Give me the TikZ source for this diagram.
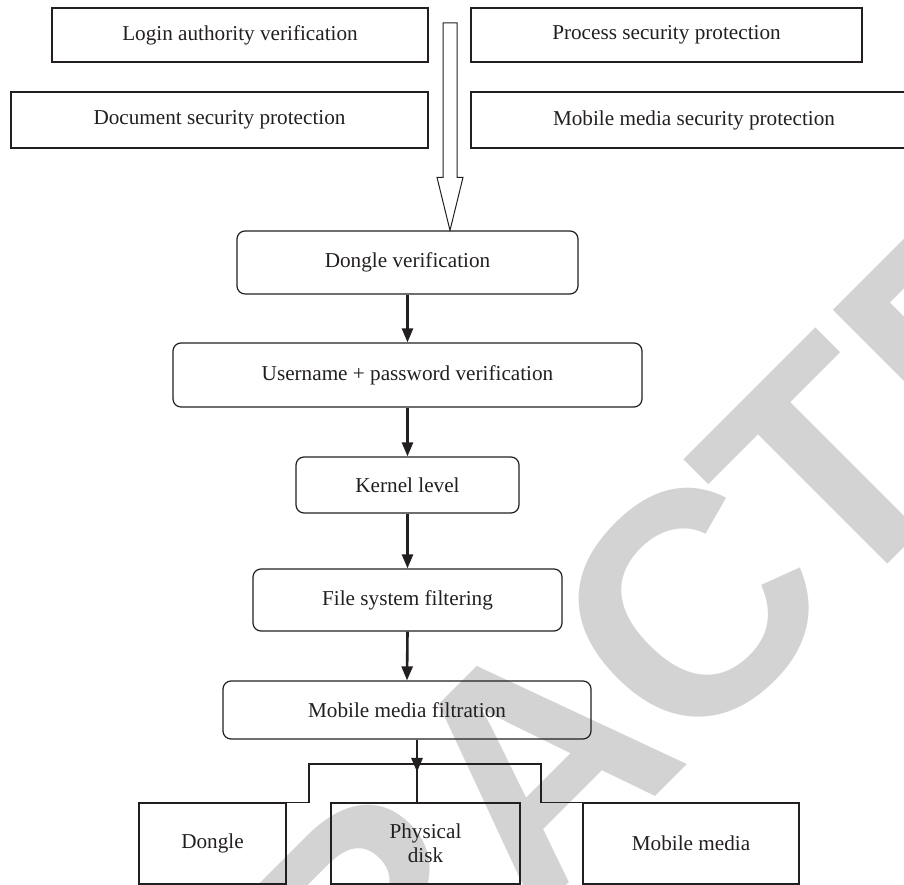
\documentclass[tikz,border=0pt]{standalone}
\usepackage{fontspec}
\setmainfont{Liberation Serif}
\newfontfamily\wmfont{Liberation Sans}
\usetikzlibrary{arrows.meta,calc}
\definecolor{ink}{HTML}{231F20}
\definecolor{wmgray}{HTML}{D3D3D3}

\begin{document}
\begin{tikzpicture}[x=1pt,y=1pt,
  lbl/.style={font=\fontsize{21.2}{25}\selectfont, text=ink},
  plainbox/.style={lbl, draw=ink, line width=1.2pt, rectangle, inner sep=0pt, align=center},
  roundbox/.style={plainbox, rounded corners=8pt},
  flow/.style={draw=ink, line width=2.6pt, -{Triangle[width=11pt,length=14pt]}},
  tree/.style={draw=ink, line width=1.2pt},
  hollow/.style={draw=ink, line width=1pt, line join=miter},
  stamp/.style={rotate=45, inner sep=0pt, text=wmgray,
    font=\wmfont\bfseries\fontsize{317}{317}\selectfont},
]
\useasboundingbox (0,0) rectangle (904,885);
\clip (0,0) rectangle (904,885);

% diagonal stamp behind the diagram, split at the A
\coordinate (wmo) at (531.7,-35.3);
\node[stamp, anchor=base west] (wmtail) at (wmo) {A\kern-11pt C\kern-17pt TED};
\node[stamp, anchor=base east] (wmhead) at (wmo) {RETR};

% protection modules
\node[plainbox, minimum width=376pt, minimum height=54pt] (login)  at (240,850)   {Login authority verification};
\node[plainbox, minimum width=391pt, minimum height=54pt] (proc)   at (666.5,850) {Process security protection};
\node[plainbox, minimum width=417pt, minimum height=56pt] (doc)    at (219.5,765) {Document security protection};
\node[plainbox, minimum width=446pt, minimum height=56pt] (mobsec) at (694,765)   {Mobile media security protection};

% verification chain
\node[roundbox, minimum width=341pt, minimum height=63pt] (dongle)  at (407.5,622.5) {Dongle verification};
\node[roundbox, minimum width=469pt, minimum height=64pt] (user)    at (407.5,510)   {Username + password verification};
\node[roundbox, minimum width=223pt, minimum height=56pt] (kernel)  at (407.5,400)   {Kernel level};
\node[roundbox, minimum width=309pt, minimum height=62pt] (filesys) at (407.5,285)   {File system filtering};
\node[roundbox, minimum width=368pt, minimum height=58pt] (mmfilt)  at (407,175)     {Mobile media filtration};

% devices
\node[plainbox, minimum width=147pt, minimum height=81pt] (dongleb) at (212.5,41.5) {Dongle};
\node[plainbox, minimum width=189pt, minimum height=81pt] (disk)    at (425.5,41.5) {Physical\\[-1pt]disk};
\node[plainbox, minimum width=216pt, minimum height=81pt] (media)   at (691,41.5)   {Mobile media};

% hollow arrow into the chain
\coordinate (bigtop) at (450,862);
\coordinate (bigtip) at (bigtop |- dongle.north);
\draw[hollow] ($(bigtop)+(-7,0)$) -- ($(bigtop)+(7,0)$) -- ($(bigtip)+(7,53)$)
  -- ($(bigtip)+(13,53)$) -- (bigtip) -- ($(bigtip)+(-13,53)$)
  -- ($(bigtip)+(-7,53)$) -- cycle;

% chain arrows
\draw[flow] (dongle.south) -- (user.north);
\draw[flow] (user.south) -- (kernel.north);
\draw[flow] (kernel.south) -- (filesys.north);
\draw[flow] (filesys.south) -- (mmfilt.north);

% branching to the devices
\coordinate (hub) at (417,121);
\coordinate (jl) at (309,121);
\coordinate (jr) at (541,121);
\coordinate (hubtip) at (417,113);
\draw[tree] (dongleb.north east) -- (dongleb.north east -| jl) -- (jl) -- (jr)
  -- (jr |- media.north west) -- (media.north west);
\draw[tree] (hub) -- (hub |- disk.north);
\draw[flow] (mmfilt.south -| hub) -- (hubtip);
\end{tikzpicture}
\end{document}
